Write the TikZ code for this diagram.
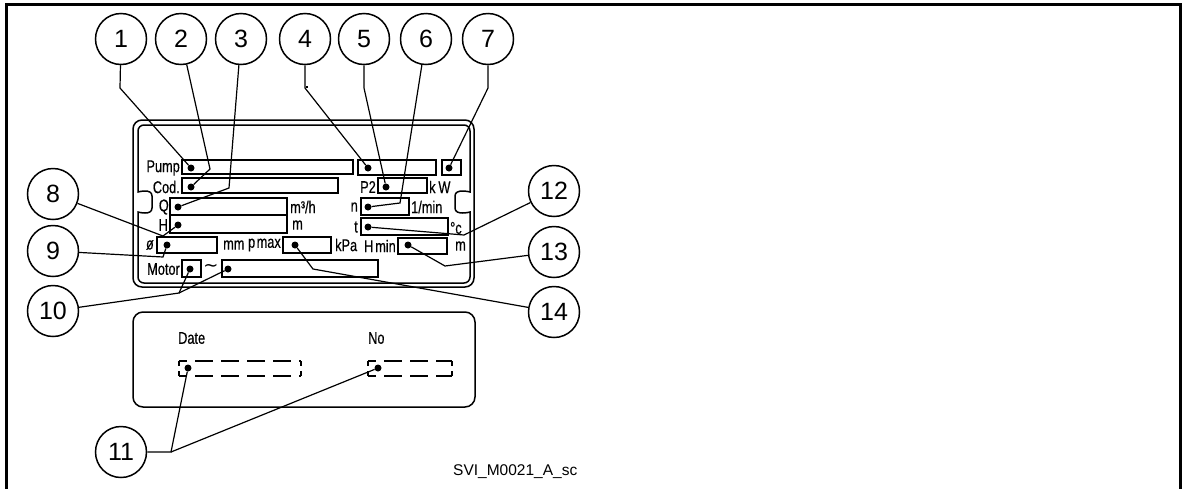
\documentclass[tikz,border=0pt]{standalone}
\usepackage{fontspec}
\setmainfont{Liberation Sans}
\newfontfamily\platefont[FakeStretch=0.75, FakeBold=0.4]{Liberation Sans}
\newfontfamily\symfont{DejaVu Sans}
\usetikzlibrary{calc,positioning}

\tikzset{
  num/.style={circle, draw, line width=1.5pt, minimum size=51pt, inner sep=0pt,
    font=\fontsize{25}{25}\selectfont},
  tipdot/.style={circle, fill, inner sep=0pt, minimum size=7pt},
  lead/.style={line width=1.2pt},
  field/.style={line width=1.5pt},
  lbl/.style={inner sep=0pt, font=\platefont\fontsize{17}{17}\selectfont},
  dashrow/.style={line width=1.5pt, dash pattern=on 18pt off 8pt, dash phase=10pt},
  dashside/.style={line width=1.5pt, dash pattern=on 5pt off 5pt},
}

\begin{document}
\begin{tikzpicture}[x=1pt, y=-1pt]
\useasboundingbox (0,0) rectangle (1185,488);

% ----- outer frame (open at the bottom) -----
\draw[line width=3pt] (6,492) -- (6,4) -- (1180,4) -- (1180,492);

% ----- rating plate: double border with side notches -----
\draw[line width=1.5pt, rounded corners=9] (133,120) rectangle (474,287);
\draw[line width=1.5pt, rounded corners=6] (138,186) -- (138,125) -- (470,125) -- (470,186)
  .. controls (470,192) and (455,188) .. (455,202)
  .. controls (455,216) and (470,212) .. (470,218) -- (470,283) -- (138,283) -- (138,218)
  .. controls (138,212) and (152,216) .. (152,202)
  .. controls (152,188) and (138,192) .. (138,186) -- cycle;

% fields
\foreach \xa/\ya/\xb/\yb in {182/160/353/174, 358/160/436/175, 442/160/461/175,
    182/178/338/193, 378/178/427/193,
    170/198/287/215, 361/198/409/215,
    170/215/287/233, 361/218/448/235,
    157/237/217/253, 283/237/331/253, 398/238/447/254,
    182/260/201/277, 222/260/378/277}
  \draw[field] (\xa,\ya) rectangle (\xb,\yb);

% texts on the plate
\node[lbl, anchor=east] (tpump) at (180,168) {Pump};
\node[lbl, anchor=east] (tcod) at (180,187) {Cod.};
\node[lbl, anchor=east] (tq) at (169,207) {Q};
\node[lbl, anchor=east] (th) at (168,225) {H};
\node[lbl, anchor=east] (tdia) at (154,245) {ø};
\node[lbl, anchor=east] (tmotor) at (180,269) {Motor};
\node[lbl, anchor=west] (tflow) at (290,207) {m³/h};
\node[lbl, anchor=west] (thead) at (292,225) {m};
\node[lbl, anchor=west] (tmm) at (223,245) {mm};
\node[lbl, anchor=east] (tpmax) at (281,245) {p\hspace{1.5pt}max};
\node[lbl, anchor=west] (tkpa) at (335,245) {kPa};
\node[lbl, anchor=east] (thmin) at (396,246) {H\hspace{2pt}min};
\node[lbl, anchor=west] (tm) at (455,246) {m};
\node[lbl, anchor=east] (tp2) at (376,187) {P2};
\node[lbl, anchor=west] (tkw) at (429,187) {k\,W};
\node[lbl, anchor=east] (tn) at (358,207) {n};
\node[lbl, anchor=west] (trpm) at (411,207) {1/min};
\node[lbl, anchor=east] (tt) at (358,227) {t};
\node[lbl, anchor=west] (tdeg) at (450,228) {°c};
\node[inner sep=0pt, font=\symfont\fontsize{18}{18}\selectfont] (tac) at (211,268) {∼};

% ----- lower plate: date and number -----
\draw[line width=1.5pt, rounded corners=10] (133,312) rectangle (475,407);
\node[lbl, anchor=west] (tdate) at (178,338) {Date};
\node[lbl, anchor=west] (tno) at (368,338) {No};
\foreach \xa/\xb in {179/301, 368/452} {
  \draw[dashrow] (\xa,361) -- (\xb,361);
  \draw[dashrow] (\xa,376) -- (\xb,376);
  \draw[dashside] (\xa,361) -- (\xa,376);
  \draw[dashside] (\xb,361) -- (\xb,376);
}

% ----- numbered circles -----
\foreach \n/\cx in {1/121,2/181,3/241,4/305,5/364,6/426,7/488}
  \node[num] (c\n) at (\cx,39) {\n};
\foreach \n/\cy in {8/194,9/251,10/311}
  \node[num] (c\n) at (53,\cy) {\n};
\foreach \n/\cy in {12/191,13/252,14/312}
  \node[num] (c\n) at (554,\cy) {\n};
\node[num] (c11) at (121,452) {11};

% ----- dots and bends -----
\foreach \n/\px/\py in {1/191/168, 2/191/187, 3/178/207, 4/368/168, 5/386/187,
    6/368/207, 7/449/168, 8/178/225, 9/167/245, 10a/190/269, 10b/228/269,
    11a/188/368, 11b/378/368, 12/368/227, 13/408/245, 14/295/245}
  \node[tipdot] (d\n) at (\px,\py) {};
\foreach \n/\px/\py in {1/120/88, 2/210/169, 3/229/188, 4/305/88, 5/364/88,
    6/400/203, 7/488/88, 8/163/236, 9/163/257, 10/179/293, 11/171/452,
    12/464/235, 13/445/266, 14/313/269}
  \coordinate (b\n) at (\px,\py);

% ----- leaders -----
\foreach \n in {1,...,9,12,13,14}
  \draw[lead] (c\n) -- (b\n) -- (d\n);
\draw[lead] (c10) -- (b10) -- (d10a);
\draw[lead] (b10) -- (d10b);
\draw[lead] (c11) -- (b11) -- (d11a);
\draw[lead] (b11) -- (d11b);
\draw[line width=1.5pt] (306,87) -- (308,87);

% drawing code
\node[inner sep=0pt, anchor=west, font=\fontsize{15.5}{15.5}\selectfont] (tcode) at (453,472) {SVI\_M0021\_A\_sc};

\end{tikzpicture}
\end{document}
